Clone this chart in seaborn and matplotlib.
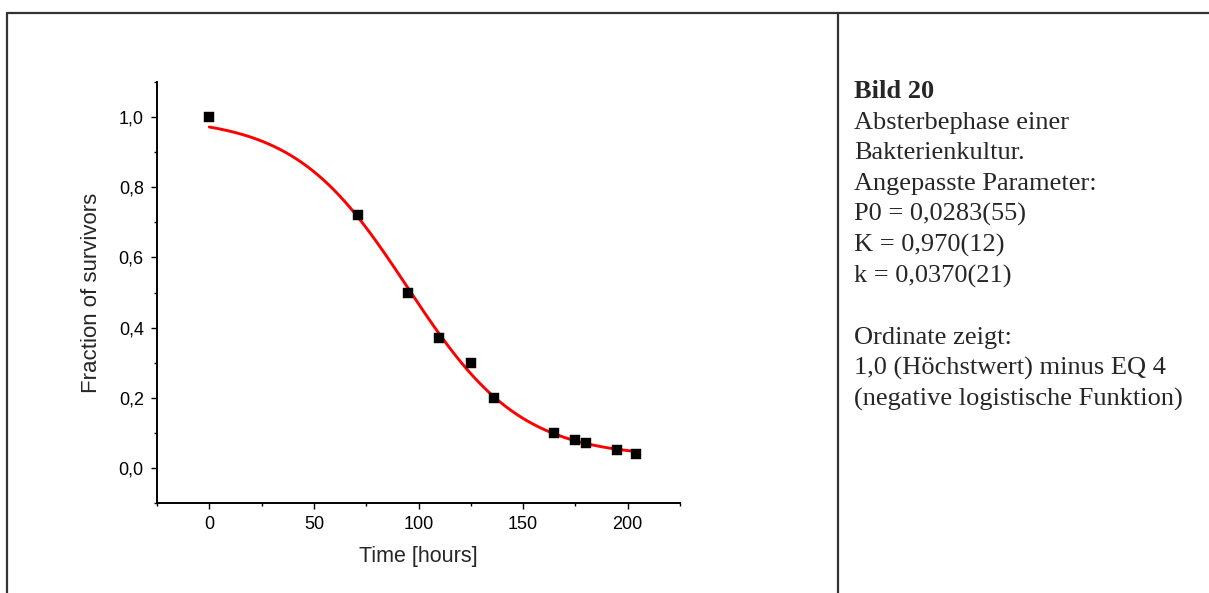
import numpy as np
import pandas as pd
import matplotlib
matplotlib.use("Agg")
import matplotlib.pyplot as plt
from matplotlib.lines import Line2D
from matplotlib.ticker import MultipleLocator, FuncFormatter
import seaborn as sns

# Measured survivor fractions of the bacterial culture
time_hours = [0, 71, 95, 110, 125, 136, 165, 175, 180, 195, 204]
survivors = [1.00, 0.72, 0.50, 0.37, 0.30, 0.20, 0.10, 0.08, 0.07, 0.05, 0.04]

# Fitted logistic parameters (EQ 4)
P0 = 0.0283
K = 0.970
k = 0.0370

x_ticks = [0, 50, 100, 150, 200]
y_ticks = [0.0, 0.2, 0.4, 0.6, 0.8, 1.0]

caption_title = "Bild 20"
caption_lines = [
    "Absterbephase einer",
    "Bakterienkultur.",
    "Angepasste Parameter:",
    "P0 = 0,0283(55)",
    "K = 0,970(12)",
    "k = 0,0370(21)",
    "",
    "Ordinate zeigt:",
    "1,0 (Höchstwert) minus EQ 4",
    "(negative logistische Funktion)",
]

sns.set_style("ticks")
plt.rcParams["font.family"] = ["Liberation Sans", "DejaVu Sans"]

W, H = 1209, 593
fig = plt.figure(figsize=(W / 100, H / 100), dpi=100)
ax = fig.add_axes([157 / W, 90 / H, (680 - 157) / W, (503 - 82) / H])

# 1,0 minus logistic growth curve
t_fit = np.linspace(min(time_hours), max(time_hours), 400)
growth = K * P0 * np.exp(k * t_fit) / (K + P0 * (np.exp(k * t_fit) - 1))
fit_df = pd.DataFrame({"t": t_fit, "y": 1.0 - growth})
sns.lineplot(data=fit_df, x="t", y="y", ax=ax, color="#ff0000", lw=2.1, zorder=2)

obs_df = pd.DataFrame({"t": time_hours, "y": survivors})
sns.scatterplot(data=obs_df, x="t", y="y", ax=ax, marker="s", s=52,
                color="black", edgecolor="black", linewidth=0.3, zorder=3)

ax.set_xlim(-25, 225)
ax.set_ylim(-0.1, 1.1)
ax.set_xticks(x_ticks)
ax.set_yticks(y_ticks)
ax.xaxis.set_minor_locator(MultipleLocator(25))
ax.yaxis.set_minor_locator(MultipleLocator(0.1))
ax.yaxis.set_major_formatter(FuncFormatter(lambda v, _: f"{v:.1f}".replace(".", ",")))
ax.tick_params(which="major", direction="out", length=4.5, width=1.0,
               labelsize=13, color="black", labelcolor="black", pad=5)
ax.tick_params(which="minor", direction="out", length=2.5, width=1.0, color="black")
sns.despine(ax=ax)
for sp in ("left", "bottom"):
    ax.spines[sp].set_linewidth(1.4)
    ax.spines[sp].set_color("black")

ax.set_xlabel("Time [hours]", fontsize=15.5, labelpad=9)
ax.set_ylabel("Fraction of survivors", fontsize=16, labelpad=12)

# Caption column
serif = ["Liberation Serif", "DejaVu Serif"]
x0 = 854 / W
y0 = 1 - 92 / H
step = 30.7 / H
fig.text(x0, y0, caption_title, family=serif, fontsize=19, fontweight="bold",
         va="center", ha="left")
for i, line in enumerate(caption_lines, start=1):
    if line:
        fig.text(x0, y0 - i * step, line, family=serif, fontsize=19,
                 va="center", ha="left")

# Table frame
frame = dict(color="#333333", lw=1.6, transform=fig.transFigure)
fig.add_artist(Line2D([7 / W, 1.0], [1 - 12.5 / H] * 2, **frame))
fig.add_artist(Line2D([7 / W] * 2, [0, 1 - 12.5 / H], **frame))
fig.add_artist(Line2D([838 / W] * 2, [0, 1 - 12.5 / H], **frame))

fig.savefig("out.png", dpi=100)
